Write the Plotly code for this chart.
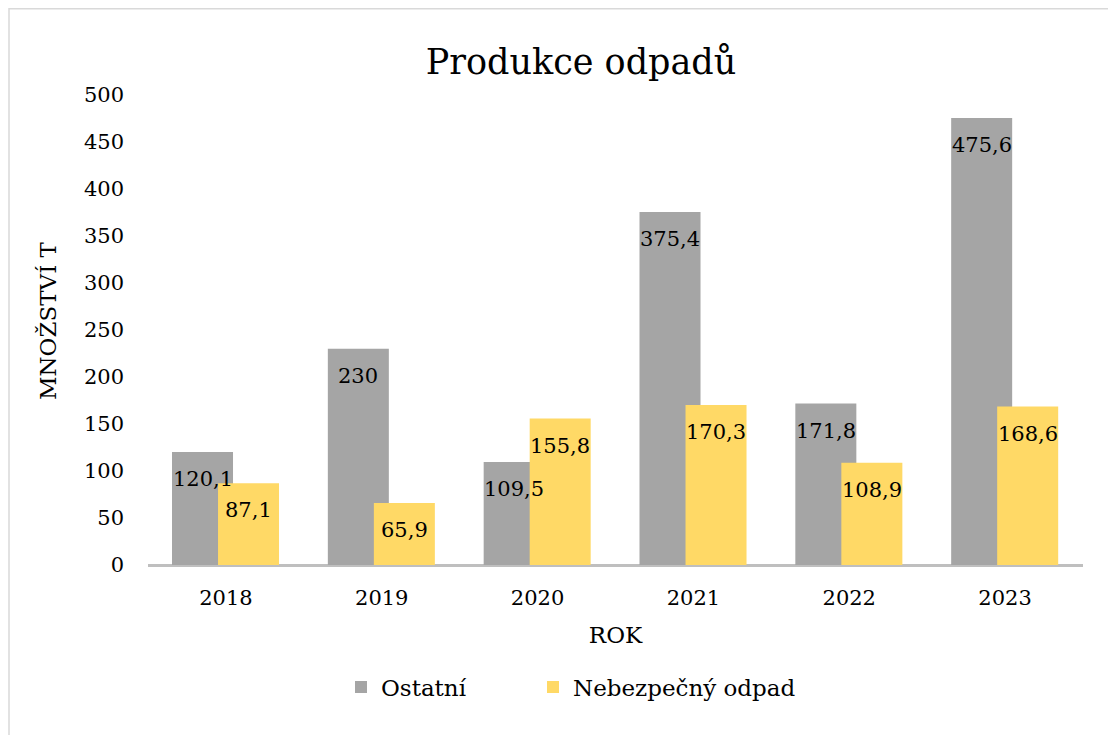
import plotly.graph_objects as go

years = ["2018", "2019", "2020", "2021", "2022", "2023"]
ostatni = [120.1, 230, 109.5, 375.4, 171.8, 475.6]
nebezpecny = [87.1, 65.9, 155.8, 170.3, 108.9, 168.6]
y_ticks = [0, 50, 100, 150, 200, 250, 300, 350, 400, 450, 500]

FONT = "DejaVu Serif"
GRAY = "#A5A5A5"
GOLD = "#FFD966"

idx = list(range(len(years)))
BW = 0.3915
OFF_G = -0.346
OFF_Y = -0.0507


def lab(v):
    return f"{v:g}".replace(".", ",")


fig = go.Figure()
fig.add_trace(go.Bar(
    x=idx, y=ostatni, name="Ostatní", marker=dict(color=GRAY, line=dict(width=0)),
    width=BW, offset=OFF_G, hoverinfo="skip", legend="legend", showlegend=True,
))
fig.add_trace(go.Bar(
    x=idx, y=nebezpecny, name="Nebezpečný odpad", marker=dict(color=GOLD, line=dict(width=0)),
    width=BW, offset=OFF_Y, hoverinfo="skip", legend="legend2", showlegend=True,
))

annotations = []
for i, v in zip(idx, ostatni):
    annotations.append(dict(x=i + OFF_G + BW / 2, y=v, xref="x", yref="y", text=lab(v),
                            showarrow=False, yanchor="middle", yshift=-27,
                            font=dict(family=FONT, size=21, color="black")))
for i, v in zip(idx, nebezpecny):
    annotations.append(dict(x=i + OFF_Y + BW / 2, y=v, xref="x", yref="y", text=lab(v),
                            showarrow=False, yanchor="middle", yshift=-27,
                            font=dict(family=FONT, size=21, color="black")))
annotations.append(dict(x=-0.107, y=0.521, xref="paper", yref="paper", text="MNOŽSTVÍ T",
                        textangle=-90, showarrow=False, xanchor="center", yanchor="middle",
                        font=dict(family=FONT, size=23, color="black")))

W, H = 1108, 727
fig.update_layout(
    width=W, height=H,
    margin=dict(l=140, r=33, t=87, b=170),
    paper_bgcolor="white", plot_bgcolor="white",
    barmode="overlay",
    showlegend=True,
    font=dict(family=FONT, color="black"),
    title=dict(text="Produkce odpadů", x=573 / W, xref="container", xanchor="center",
               y=1 - 54 / H, yref="container", yanchor="middle",
               font=dict(family=FONT, size=35, color="black")),
    xaxis=dict(
        tickmode="array", tickvals=idx, ticktext=years, range=[-0.5, 5.5],
        showgrid=False, zeroline=False, showline=False, ticks="",
        tickfont=dict(family=FONT, size=21, color="black"), ticklabelstandoff=18,
        title=dict(text="ROK", font=dict(family=FONT, size=23, color="black"), standoff=17),
    ),
    yaxis=dict(
        range=[0, 500], tickmode="array", tickvals=y_ticks,
        showgrid=False, zeroline=True, zerolinecolor="#BFBFBF", zerolinewidth=2.5,
        showline=False, ticks="",
        tickfont=dict(family=FONT, size=21, color="black"), ticklabelstandoff=23,
    ),
    legend=dict(orientation="h", x=(341 - 148) / 935, xanchor="left", y=-0.2596, yanchor="middle",
                font=dict(family=FONT, size=23, color="black")),
    legend2=dict(orientation="h", x=(533 - 148) / 935, xanchor="left", y=-0.2596, yanchor="middle",
                 font=dict(family=FONT, size=23, color="black")),
    annotations=annotations,
    shapes=[dict(type="rect", xref="paper", yref="paper",
                 x0=(1 - 140) / 935, x1=(1130 - 140) / 935,
                 y0=(557 - 760) / 470, y1=(557 - 0.75) / 470,
                 line=dict(color="#D9D9D9", width=1.5), fillcolor="rgba(0,0,0,0)", layer="below")],
)

fig.write_html("out.html")
